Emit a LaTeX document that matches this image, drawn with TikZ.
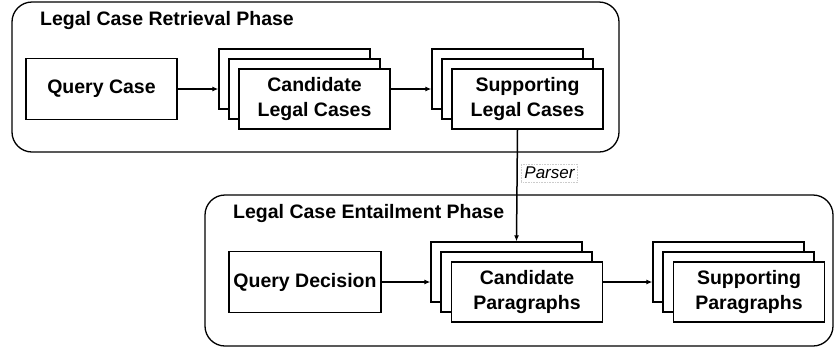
\documentclass[tikz,border=0pt]{standalone}
\usepackage{fontspec}
\setmainfont{Liberation Sans}
\usetikzlibrary{arrows.meta,calc}

\tikzset{
	>={Latex[length=6pt,width=5pt]},
	phase/.style={draw, line width=1.3pt, rounded corners=20pt},
	phasetitle/.style={anchor=base west, inner sep=0pt, font=\bfseries\fontsize{19.5}{23}\selectfont},
	card/.style={draw, line width=1.3pt, fill=white, minimum width=151pt, minimum height=60pt,
		align=center, inner sep=0pt, font=\bfseries\fontsize{19.5}{25}\selectfont},
	link/.style={->, line width=1.5pt},
}

\begin{document}
\begin{tikzpicture}[x=1pt, y=-1pt]
			\useasboundingbox (0, 0) rectangle (835, 349);
			% the two phases
			\draw[phase] (12, 2) rectangle (619, 152);
			\node[phasetitle] (retr) at (40, 25) {Legal Case Retrieval Phase};
			\draw[phase] (205, 195) rectangle (833, 346);
			\node[phasetitle] (entl) at (233, 218) {Legal Case Entailment Phase};
			% single boxes
			\node[card, minimum height=61pt] (qc) at (101.5, 89) {Query Case};
			\node[card, minimum width=152pt, minimum height=61pt] (qd) at (305, 282) {Query Decision};
			% stacks of three, the front one carries the text
			\foreach \i in {1,...,2} {
				\node[card] (lc\i) at ($(284.5, 69) + (10 * \i, 10 * \i)$) {};
				\node[card] (sc\i) at ($(497.5, 69) + (10 * \i, 10 * \i)$) {};
				\node[card] (pc\i) at ($(496.5, 262) + (10 * \i, 10 * \i)$) {};
				\node[card] (sp\i) at ($(718.5, 262) + (10 * \i, 10 * \i)$) {};
			}
			\node[card] (lc3) at (314.5, 99) {Candidate\\Legal Cases};
			\node[card] (sc3) at (527.5, 99) {Supporting\\Legal Cases};
			\node[card] (pc3) at (527, 292) {Candidate\\Paragraphs};
			\node[card] (sp3) at (749, 292) {Supporting\\Paragraphs};
			% connectors
			\draw[link] (qc.east) -- (qc.east -| lc1.west);
			\draw[link] (lc3.east |- lc2) -- (lc2 -| sc1.west);
			\draw[link] (qd.east) -- (qd.east -| pc1.west);
			\draw[link] (pc3.east |- pc2) -- (pc2 -| sp1.west);
			\draw[link] (sc3.south -| sc2) -- node[pos=0.39, right, xshift=4pt, draw=black!20, densely dotted, line width=0.6pt,
				inner sep=3pt, font=\itshape\fontsize{17}{20}\selectfont] (parser) {Parser} (pc1.north -| pc2);
			\end{tikzpicture}
\end{document}
